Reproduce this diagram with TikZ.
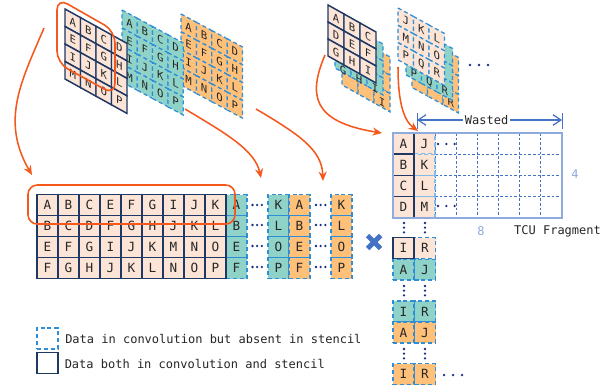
\documentclass[tikz,border=0pt]{standalone}
\usepackage{fontspec}
\setmainfont{DejaVu Sans Mono}
\usetikzlibrary{arrows.meta}
\definecolor{peach}{HTML}{FCE4D6}
\definecolor{tealc}{HTML}{8FD3C8}
\definecolor{orangec}{HTML}{FFC07A}
\definecolor{navy}{HTML}{1F3864}
\definecolor{dashblue}{HTML}{2E8FD8}
\definecolor{hot}{HTML}{F4581C}
\definecolor{midblue}{HTML}{4472C4}
\definecolor{lightb}{HTML}{8FAADC}
\tikzset{
  x=.75pt,y=-.75pt,
  solidcell/.style={draw=navy,line width=1.1pt},
  dashcell/.style={draw=dashblue,line width=.95pt,dash pattern=on 3pt off 2.2pt},
  gridcell/.style={draw,minimum width=15.75pt,minimum height=15.75pt,inner sep=0pt,outer sep=0pt,anchor=north west,font=\fontsize{9.5}{10}\selectfont,text=black!85},
  hotline/.style={draw=hot,line width=1.15pt,-{Stealth[length=7pt,width=6pt]}},
  hotbox/.style={draw=hot,line width=1.2pt,rounded corners=7pt},
  wastearrow/.style={draw=midblue,line width=.9pt,{Straight Barb[length=6pt,width=8pt]}-{Straight Barb[length=6pt,width=8pt]}},
  tick/.style={draw=midblue,line width=.7pt},
  dotmark/.style={fill=navy!80!blue,circle,inner sep=0pt,minimum size=1.9pt},
  crossmark/.style={draw=midblue,line width=3.7pt},
  txt/.style={font=\fontsize{9}{10}\selectfont,text=black!85,inner sep=0pt},
  dimtxt/.style={font=\fontsize{9}{10}\selectfont,text=lightb,inner sep=0pt},
}
% #1 x,y  #2 ux,uy  #3 vy  #4 n  #5 style  #6 letter shift  #7 letters
\newcommand{\skewgrid}[7]{%
  \foreach \lt [count=\nn from 0] in {#7}{%
    \pgfmathtruncatemacro\cc{mod(\nn,#4)}%
    \pgfmathtruncatemacro\rr{int(\nn/#4)}%
    \skewcell{#1}{#2}{#3}{#5}{#6}%
  }}
\def\skewcell#1#2#3#4#5{\skewcellA#1;#2;{#3}{#4}{#5}}
\def\skewcellA#1,#2;#3,#4;#5#6#7{%
  \pgfmathsetmacro\xa{#1+\cc*#3}%
  \pgfmathsetmacro\ya{#2+\cc*#4+\rr*#5}%
  \draw[#6] (\xa,\ya) -- ++(#3,#4) -- ++(0,#5) -- ++(-#3,-#4) -- cycle;
  \node[yslant=-0.55,font=\fontsize{8}{9}\selectfont,text=black!85,inner sep=0pt] at ({\xa+#3/2},{\ya+#4/2+#5/2+#7}) {\lt};
}
\newcommand{\dotsrow}[3]{\foreach \k in {0,1,2}{\node[dotmark] at ({#1+\k*#3},#2) {};}}
\newcommand{\dotscol}[3]{\foreach \k in {0,1,2}{\node[dotmark] at (#1,{#2+\k*#3}) {};}}
\begin{document}
\begin{tikzpicture}
\useasboundingbox[fill=white] (0,0) rectangle (616,389);
% top-left stack
\skewgrid{181,14}{15.4,8.25}{17.8}{4}{fill=orangec,dashcell}{0}{A,B,C,D,E,F,G,H,I,J,K,L,M,N,O,P}
\skewgrid{122,10}{15.3,8.25}{18}{4}{fill=tealc,dashcell}{0}{A,B,C,D,E,F,G,H,I,J,K,L,M,N,O,P}
\skewgrid{65,9}{15.5,8.6}{17.5}{4}{fill=peach,solidcell}{0}{A,B,C,D,E,F,G,H,I,J,K,L,M,N,O,P}
% top-right stack 1
\skewgrid{342,30}{16,9}{18.3}{3}{fill=orangec,dashcell}{4}{{},{},{},{},{},{},{},{},I}
\skewgrid{335,17}{16,9}{17}{3}{fill=tealc,dashcell}{6}{{},{},{},{},{},{},G,H,I}
\skewgrid{328,5}{16,9}{17}{3}{fill=peach,solidcell}{0}{A,B,C,D,E,F,G,H,I}
% top-right stack 2
\skewgrid{412,32}{15.5,8.5}{18.5}{3}{fill=orangec,dashcell}{3}{{},{},{},{},{},{},{},{},R}
\skewgrid{406,23}{15.5,8.5}{17.3}{3}{fill=tealc,dashcell}{3}{{},{},{},{},{},{},P,Q,R}
\skewgrid{398,8}{15.5,8.5}{17.3}{3}{fill=peach,dashcell}{0}{J,K,L,M,N,O,P,Q,R}
\dotsrow{470}{65}{9}
% flat strips
\foreach \col/\cx/\fc/\lts in {0/226/tealc/{A,B,E,F},1/268/tealc/{K,L,O,P},2/289/orangec/{A,B,E,F},3/331/orangec/{K,L,O,P}}{
  \foreach \lt [count=\r from 0] in \lts {
    \node[gridcell,dashcell,fill=\fc] (s\col r\r) at (\cx,{194.5+\r*21}) {\lt};
  }
}
\foreach \rowl [count=\r from 0] in {{A,B,C,E,F,G,I,J,K},{B,C,D,F,G,H,J,K,L},{E,F,G,I,J,K,M,N,O},{F,G,H,J,K,L,N,O,P}}{
  \foreach \lt [count=\c from 0] in \rowl {
    \node[gridcell,solidcell,fill=peach] (m\r c\c) at ({37+\c*21},{194.5+\r*21}) {\lt};
  }
}
\foreach \yy in {205,225,246,267}{\dotsrow{252.5}{\yy}{4.7}\dotsrow{316}{\yy}{4.7}}
\draw[hotbox] (28,185) rectangle (235,224);
% cross
\coordinate (xa) at (367.5,235.5); \coordinate (xb) at (380.5,248.5);
\coordinate (xc) at (380.5,235.5); \coordinate (xd) at (367.5,248.5);
\draw[crossmark] (xa) -- (xb);
\draw[crossmark] (xc) -- (xd);
% TCU fragment
\foreach \i in {1,...,7}{\draw[midblue,line width=.6pt,dash pattern=on 2pt off 1.5pt] ({393+\i*21.125},133) -- ({393+\i*21.125},218);}
\foreach \i in {1,2,3}{\draw[midblue,line width=.6pt,dash pattern=on 2pt off 1.5pt] (393,{133+\i*21.25}) -- (562,{133+\i*21.25});}
\foreach \lt/\lr [count=\r from 0] in {A/J,B/K,C/L,D/M}{
  \node[gridcell,dashcell,draw=dashblue!60,fill=peach] (fr\r) at (414,{133+\r*21.25}) {\lr};
  \node[gridcell,solidcell,fill=peach] (fl\r) at (393,{133+\r*21.25}) {\lt};
}
\draw[draw=lightb,line width=1.2pt] (393,133) rectangle (562,218);
\dotsrow{438}{144}{8.3}
\dotsrow{438}{206}{8.3}
\coordinate (wt) at (417,113); \coordinate (wb) at (417,129);
\coordinate (wu) at (562,113); \coordinate (wv) at (562,129);
\coordinate (wl) at (417,120); \coordinate (wr) at (562,120);
\draw[tick] (wt) -- (wb);
\draw[tick] (wu) -- (wv);
\draw[wastearrow] (wl) -- node[txt,fill=white,inner xsep=1.5pt,pos=.48] (wasted) {Wasted} (wr);
\node[dimtxt] (four) at (575,174) {4};
\node[dimtxt] (eight) at (481,231) {8};
\node[txt] (tcu) at (557.5,231) {TCU Fragment};
% column stack
\dotscol{404}{223}{4.7}\dotscol{425}{223}{4.7}
\node[gridcell,dashcell,fill=tealc] (c1) at (393,259) {A};
\node[gridcell,dashcell,fill=tealc] (c2) at (414.5,259) {J};
\node[gridcell,dashcell,fill=peach] (c3) at (414.5,237.5) {R};
\node[gridcell,solidcell,fill=peach] (c4) at (393,237.5) {I};
\dotscol{404}{286}{4.7}\dotscol{425}{286}{4.7}
\node[gridcell,dashcell,fill=tealc] (c5) at (393,301) {I};
\node[gridcell,dashcell,fill=tealc] (c6) at (414.5,301) {R};
\node[gridcell,dashcell,fill=orangec] (c7) at (393,322) {A};
\node[gridcell,dashcell,fill=orangec] (c8) at (414.5,322) {J};
\dotscol{404}{349}{4.7}\dotscol{425}{349}{4.7}
\node[gridcell,dashcell,fill=orangec] (c9) at (393,363.5) {I};
\node[gridcell,dashcell,fill=orangec] (c10) at (414.5,363.5) {R};
\dotsrow{444}{375}{9}
% orange highlight and arrows
\draw[hotbox,rounded corners=9pt] (57,-2) -- (115,31) -- (115,95) -- (57,63) -- cycle;
\coordinate (a1s) at (44,28); \coordinate (a1e) at (32,175);
\coordinate (a2s) at (185,109); \coordinate (a2e) at (261,178);
\coordinate (a3s) at (256,109); \coordinate (a3e) at (323,181);
\coordinate (a4s) at (325,55); \coordinate (a4e) at (382,133);
\coordinate (a5s) at (398,67); \coordinate (a5e) at (418,131);
\draw[hotline] (a1s) .. controls (22,80) and (0,120) .. (a1e);
\draw[hotline] (a2s) .. controls (225,133) and (255,150) .. (a2e);
\draw[hotline] (a3s) .. controls (300,135) and (322,150) .. (a3e);
\draw[hotline] (a4s) .. controls (308,95) and (312,122) .. (a4e);
\draw[hotline] (a5s) .. controls (398,100) and (403,120) .. (a5e);
% legend
\node[gridcell,dashcell] (lg1) at (37,328) {};
\node[gridcell,solidcell] (lg2) at (37,352.5) {};
\node[txt,anchor=west] (lt1) at (65,339) {Data in convolution but absent in stencil};
\node[txt,anchor=west] (lt2) at (64.5,364) {Data both in convolution and stencil};
\end{tikzpicture}
\end{document}
